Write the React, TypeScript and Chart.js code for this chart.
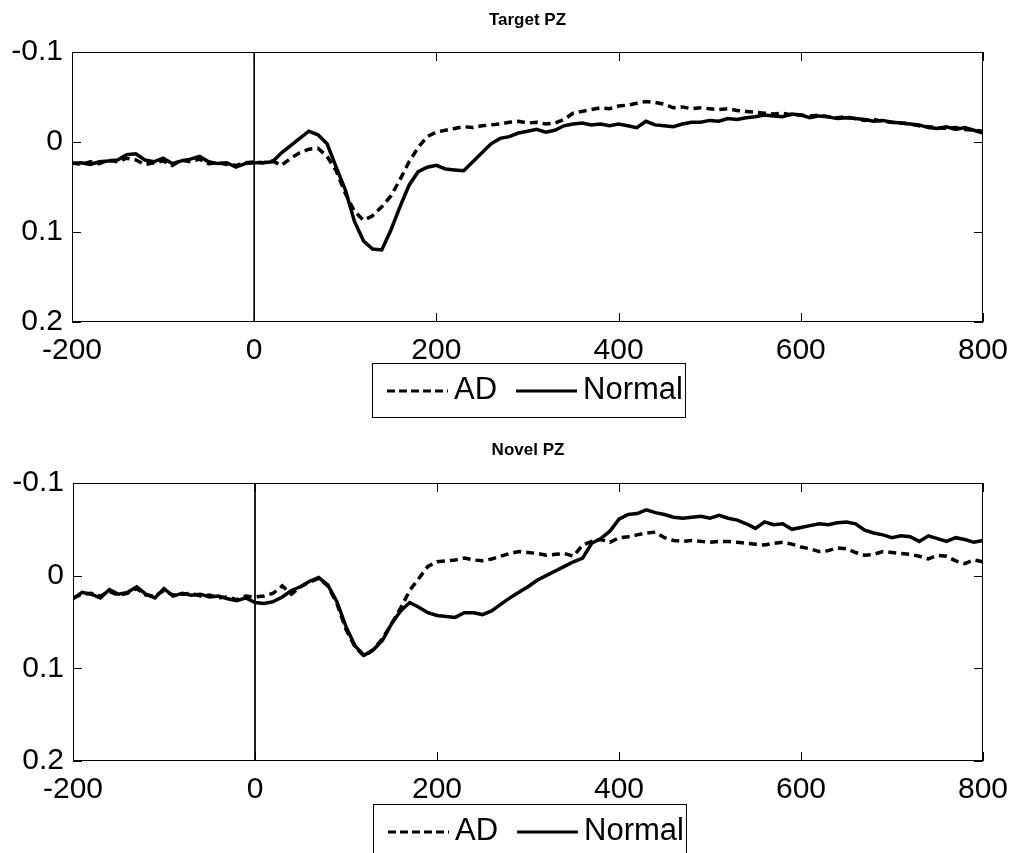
import React, { useEffect, useRef } from "react";
import { Chart, registerables } from "chart.js";

Chart.register(...registerables);

// ---- data ----
const TIME_MS = [
  -200, -190, -180, -170, -160, -150, -140, -130, -120, -110,
  -100, -90, -80, -70, -60, -50, -40, -30, -20, -10,
  0, 10, 20, 30, 40, 50, 60, 70, 80, 90,
  100, 110, 120, 130, 140, 150, 160, 170, 180, 190,
  200, 210, 220, 230, 240, 250, 260, 270, 280, 290,
  300, 310, 320, 330, 340, 350, 360, 370, 380, 390,
  400, 410, 420, 430, 440, 450, 460, 470, 480, 490,
  500, 510, 520, 530, 540, 550, 560, 570, 580, 590,
  600, 610, 620, 630, 640, 650, 660, 670, 680, 690,
  700, 710, 720, 730, 740, 750, 760, 770, 780, 790,
  800,
];

const TARGET_AD = [
  0.023, 0.025, 0.022, 0.024, 0.020, 0.022, 0.018, 0.020, 0.025, 0.023,
  0.021, 0.026, 0.020, 0.022, 0.019, 0.024, 0.023, 0.025, 0.026, 0.023,
  0.022, 0.023, 0.021, 0.026, 0.018, 0.012, 0.008, 0.007, 0.016, 0.032,
  0.057, 0.077, 0.087, 0.082, 0.072, 0.060, 0.042, 0.022, 0.006, -0.006,
  -0.011, -0.013, -0.015, -0.017, -0.016, -0.018, -0.019, -0.020, -0.022, -0.023,
  -0.021, -0.022, -0.020, -0.021, -0.025, -0.032, -0.034, -0.036, -0.038, -0.037,
  -0.040, -0.041, -0.043, -0.045, -0.044, -0.042, -0.038, -0.039, -0.037, -0.038,
  -0.037, -0.036, -0.037, -0.035, -0.034, -0.033, -0.032, -0.031, -0.032, -0.030,
  -0.030, -0.029, -0.030, -0.028, -0.027, -0.028, -0.026, -0.024, -0.025, -0.023,
  -0.022, -0.021, -0.020, -0.018, -0.017, -0.016, -0.015, -0.016, -0.014, -0.013,
  -0.012,
];

const TARGET_NORMAL = [
  0.024, 0.023, 0.025, 0.022, 0.021, 0.020, 0.014, 0.013, 0.020, 0.022,
  0.018, 0.024, 0.021, 0.019, 0.016, 0.022, 0.024, 0.023, 0.028, 0.024,
  0.023, 0.023, 0.022, 0.012, 0.004, -0.004, -0.012, -0.008, 0.002, 0.028,
  0.053, 0.088, 0.110, 0.119, 0.120, 0.098, 0.072, 0.048, 0.033, 0.028,
  0.026, 0.030, 0.031, 0.032, 0.022, 0.012, 0.002, -0.004, -0.006, -0.010,
  -0.012, -0.014, -0.011, -0.013, -0.018, -0.020, -0.021, -0.019, -0.020, -0.018,
  -0.020, -0.018, -0.016, -0.023, -0.019, -0.018, -0.017, -0.020, -0.022, -0.022,
  -0.024, -0.023, -0.026, -0.025, -0.027, -0.028, -0.030, -0.029, -0.028, -0.031,
  -0.030, -0.027, -0.029, -0.028, -0.026, -0.027, -0.026, -0.025, -0.023, -0.024,
  -0.022, -0.021, -0.020, -0.019, -0.016, -0.015, -0.017, -0.014, -0.016, -0.013,
  -0.010,
];

const NOVEL_AD = [
  0.024, 0.020, 0.019, 0.022, 0.017, 0.021, 0.019, 0.014, 0.021, 0.022,
  0.016, 0.021, 0.020, 0.019, 0.022, 0.021, 0.024, 0.023, 0.026, 0.022,
  0.023, 0.022, 0.019, 0.011, 0.020, 0.012, 0.007, 0.003, 0.011, 0.030,
  0.058, 0.077, 0.087, 0.080, 0.068, 0.052, 0.035, 0.016, 0.003, -0.010,
  -0.015, -0.016, -0.017, -0.019, -0.017, -0.016, -0.018, -0.021, -0.024, -0.026,
  -0.025, -0.024, -0.022, -0.023, -0.024, -0.021, -0.033, -0.037, -0.039, -0.036,
  -0.041, -0.042, -0.044, -0.046, -0.047, -0.041, -0.038, -0.037, -0.038, -0.037,
  -0.036, -0.037, -0.037, -0.036, -0.035, -0.034, -0.033, -0.035, -0.036, -0.034,
  -0.031, -0.029, -0.026, -0.027, -0.030, -0.029, -0.025, -0.022, -0.023, -0.026,
  -0.025, -0.024, -0.023, -0.021, -0.018, -0.022, -0.021, -0.016, -0.013, -0.017,
  -0.015,
];

const NOVEL_NORMAL = [
  0.025, 0.018, 0.020, 0.024, 0.015, 0.020, 0.018, 0.012, 0.020, 0.024,
  0.014, 0.022, 0.019, 0.021, 0.020, 0.023, 0.022, 0.025, 0.027, 0.024,
  0.029, 0.030, 0.028, 0.023, 0.016, 0.012, 0.006, 0.002, 0.010, 0.028,
  0.055, 0.076, 0.086, 0.080, 0.070, 0.052, 0.038, 0.029, 0.034, 0.040,
  0.043, 0.044, 0.045, 0.040, 0.040, 0.042, 0.038, 0.031, 0.024, 0.018,
  0.012, 0.005, 0.000, -0.005, -0.010, -0.015, -0.019, -0.035, -0.040, -0.048,
  -0.061, -0.066, -0.067, -0.071, -0.068, -0.066, -0.063, -0.062, -0.063, -0.064,
  -0.062, -0.065, -0.062, -0.060, -0.056, -0.051, -0.058, -0.055, -0.056, -0.050,
  -0.052, -0.054, -0.056, -0.055, -0.057, -0.058, -0.056, -0.049, -0.046, -0.044,
  -0.041, -0.043, -0.042, -0.037, -0.043, -0.040, -0.037, -0.041, -0.039, -0.036,
  -0.038,
];

const ONSET_X = [0, 0];
const ONSET_Y = [-0.1, 0.2];

const X_TICKS = [-200, 0, 200, 400, 600, 800];
const Y_TICKS = [-0.1, 0, 0.1, 0.2];

const SERIES_LABELS = ["AD", "Normal"];
const PANEL_TITLES = ["Target PZ", "Novel PZ"];

// ---- layout / style ----
const W = 1019;
const FONT = '"Liberation Sans", Arial, Helvetica, sans-serif';

type PanelCfg = {
  title: string;
  ad: number[];
  normal: number[];
  offset: number;
  height: number;
  area: { left: number; top: number; right: number; bottom: number };
  titleY: number;
  legend: { left: number; top: number; height: number; textY: number };
};

const PANELS: PanelCfg[] = [
  {
    title: PANEL_TITLES[0],
    ad: TARGET_AD,
    normal: TARGET_NORMAL,
    offset: 0,
    height: 420,
    area: { left: 72, top: 52, right: 983, bottom: 322 },
    titleY: 20,
    legend: { left: 372, top: 363, height: 54, textY: 390 },
  },
  {
    title: PANEL_TITLES[1],
    ad: NOVEL_AD,
    normal: NOVEL_NORMAL,
    offset: 420,
    height: 433,
    area: { left: 73, top: 63, right: 986, bottom: 341 },
    titleY: 30,
    legend: { left: 373, top: 384, height: 54, textY: 411 },
  },
];

const matlabAxesPlugin = {
  id: "matlabAxes",
  afterDraw(chart: any, _args: any, opts: any) {
    const { ctx, chartArea: a, scales } = chart;
    ctx.save();
    // frame
    ctx.strokeStyle = "#000";
    ctx.lineWidth = 1;
    ctx.setLineDash([]);
    ctx.strokeRect(a.left + 0.5, a.top + 0.5, a.right - a.left - 1, a.bottom - a.top - 1);
    // inward ticks
    const len = 9;
    ctx.beginPath();
    for (const v of X_TICKS) {
      const px = Math.round(scales.x.getPixelForValue(v)) + 0.5;
      ctx.moveTo(px, a.top);
      ctx.lineTo(px, a.top + len);
      ctx.moveTo(px, a.bottom);
      ctx.lineTo(px, a.bottom - len);
    }
    for (const v of Y_TICKS) {
      const py = Math.round(scales.y.getPixelForValue(v)) + 0.5;
      ctx.moveTo(a.left, py);
      ctx.lineTo(a.left + len, py);
      ctx.moveTo(a.right, py);
      ctx.lineTo(a.right - len, py);
    }
    ctx.stroke();

    // title
    ctx.fillStyle = "#000";
    ctx.font = `bold 17px ${FONT}`;
    ctx.textAlign = "center";
    ctx.textBaseline = "middle";
    ctx.fillText(opts.title, (a.left + a.right) / 2, opts.titleY);

    // legend
    const L = opts.legend;
    const items = chart.data.datasets.filter((d: any) => d.showInLegend);
    ctx.font = `31px ${FONT}`;
    ctx.textAlign = "left";
    let x = L.left + 15;
    const lineLen = 61;
    let right = x;
    items.forEach((d: any, i: number) => {
      ctx.setLineDash(d.legendDash || []);
      ctx.lineWidth = 3;
      ctx.strokeStyle = d.borderColor;
      ctx.beginPath();
      ctx.moveTo(x, L.textY + 1);
      ctx.lineTo(x + lineLen, L.textY + 1);
      ctx.stroke();
      x += lineLen + 6;
      ctx.fillText(d.label, x, L.textY);
      x += ctx.measureText(d.label).width;
      right = x;
      if (i < items.length - 1) x += 19;
    });
    ctx.setLineDash([]);
    ctx.lineWidth = 1;
    ctx.strokeStyle = "#000";
    ctx.strokeRect(L.left + 0.5, L.top + 0.5, right + 2 - L.left, L.height);
    ctx.restore();
  },
};

function toPoints(xs: number[], ys: number[]) {
  return xs.map((x, i) => ({ x, y: ys[i] }));
}

function Panel({ cfg }: { cfg: PanelCfg }) {
  const ref = useRef<HTMLCanvasElement>(null);
  useEffect(() => {
    const canvas = ref.current;
    if (!canvas) return;
    const tickFont = { family: FONT, size: 30 };
    const chart = new Chart(canvas, {
      type: "line",
      data: {
        datasets: [
          {
            label: SERIES_LABELS[0],
            data: toPoints(TIME_MS, cfg.ad),
            borderColor: "#000",
            borderWidth: 3.5,
            borderDash: [8, 5],
            pointRadius: 0,
            tension: 0,
            fill: false,
            showInLegend: true,
            legendDash: [8, 4],
          } as any,
          {
            label: SERIES_LABELS[1],
            data: toPoints(TIME_MS, cfg.normal),
            borderColor: "#000",
            borderWidth: 3.5,
            pointRadius: 0,
            tension: 0,
            fill: false,
            showInLegend: true,
          } as any,
          {
            label: "",
            data: toPoints(ONSET_X, ONSET_Y),
            borderColor: "#000",
            borderWidth: 1,
            pointRadius: 0,
            fill: false,
            showInLegend: false,
          } as any,
        ],
      },
      options: {
        animation: false,
        responsive: false,
        devicePixelRatio: 1,
        events: [],
        layout: {
          padding: { left: 0, top: cfg.area.top, right: W - cfg.area.right, bottom: 0 },
        },
        plugins: {
          legend: { display: false },
          title: { display: false },
          tooltip: { enabled: false },
          matlabAxes: { title: cfg.title, titleY: cfg.titleY, legend: cfg.legend },
        } as any,
        scales: {
          x: {
            type: "linear",
            min: -200,
            max: 800,
            grid: { display: false, drawTicks: false },
            border: { display: false },
            ticks: {
              color: "#000",
              font: tickFont,
              padding: 11,
              maxRotation: 0,
              autoSkip: false,
              callback: (v: any) => String(v),
            },
            afterBuildTicks: (s: any) => {
              s.ticks = X_TICKS.map((value) => ({ value }));
            },
            afterFit: (s: any) => {
              s.height = cfg.height - cfg.area.bottom;
            },
          },
          y: {
            type: "linear",
            reverse: true,
            min: -0.1,
            max: 0.2,
            grid: { display: false, drawTicks: false },
            border: { display: false },
            ticks: {
              color: "#000",
              font: tickFont,
              padding: 9,
              autoSkip: false,
              callback: (v: any) => {
                const n = Math.round(Number(v) * 10) / 10;
                return n === 0 ? "0" : String(n);
              },
            },
            afterBuildTicks: (s: any) => {
              s.ticks = Y_TICKS.map((value) => ({ value }));
            },
            afterFit: (s: any) => {
              s.width = cfg.area.left;
            },
          },
        },
      },
      plugins: [matlabAxesPlugin as any],
    });
    return () => chart.destroy();
  }, [cfg]);

  return (
    <canvas
      ref={ref}
      width={W}
      height={cfg.height}
      style={{ position: "absolute", left: 0, top: cfg.offset, display: "block" }}
    />
  );
}

export default function App() {
  return (
    <div
      style={{
        position: "absolute",
        left: 0,
        top: 0,
        width: W,
        height: 853,
        background: "#fff",
        overflow: "hidden",
      }}
    >
      {PANELS.map((p, i) => (
        <Panel key={i} cfg={p} />
      ))}
    </div>
  );
}
